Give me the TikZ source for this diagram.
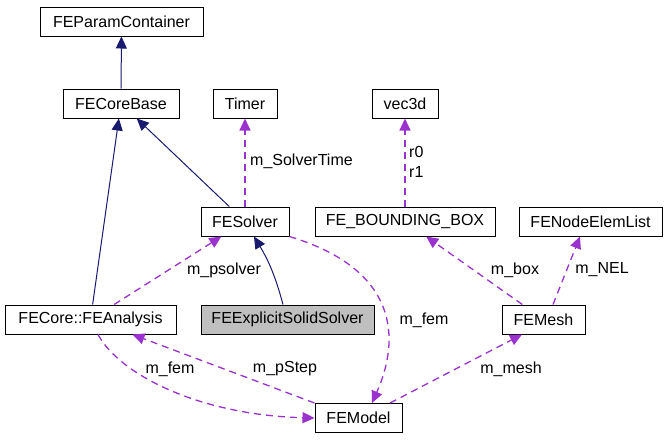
\documentclass[tikz,border=0pt]{standalone}
\usepackage{fontspec}
\setmainfont{Liberation Sans}
\usetikzlibrary{arrows.meta,calc}
\definecolor{navy}{HTML}{191970}
\definecolor{purp}{HTML}{9A32CD}
\definecolor{grayfill}{HTML}{BFBFBF}
\begin{document}
\begin{tikzpicture}[x=1pt,y=-1pt,
  box/.style={draw=black,line width=1pt,fill=white,minimum height=29pt,inner sep=0pt,font=\fontsize{16}{18}\selectfont},
  lbl/.style={font=\fontsize{16}{18}\selectfont,inner sep=0pt},
  inh/.style={draw=navy,line width=1pt,-{Triangle[length=12pt,width=11pt,fill=navy]}},
  use/.style={draw=purp,line width=1.3pt,dash pattern=on 7pt off 5pt,-{Triangle[length=12pt,width=11pt,fill=purp]}}]
\useasboundingbox[fill=white] (0,0) rectangle (667,440);
% nodes
\node[box,minimum width=163pt] (PC) at (121.5,21.5) {FEParamContainer};
\node[box,minimum width=116pt] (CB) at (121,103.5) {FECoreBase};
\node[box,minimum width=64pt] (TM) at (245,103.5) {Timer};
\node[box,minimum width=66pt] (V3) at (405,103.5) {vec3d};
\node[box,minimum width=88pt] (SV) at (245,221.5) {FESolver};
\node[box,minimum width=180pt] (BB) at (405,221.5) {FE\_BOUNDING\_BOX};
\node[box,minimum width=143pt] (NE) at (590.5,221.5) {FENodeElemList};
\node[box,minimum width=171pt] (AN) at (90.5,319.5) {FECore::FEAnalysis};
\node[box,minimum width=173pt,fill=grayfill] (ES) at (287.5,319.5) {FEExplicitSolidSolver};
\node[box,minimum width=83pt] (MS) at (543.5,319.5) {FEMesh};
\node[box,minimum width=87pt] (MD) at (358.5,418) {FEModel};
% inheritance
\draw[inh] (CB) -- (PC);
\draw[inh] (AN) -- (CB);
\draw[inh] (SV) -- (CB);
\draw[inh] ([xshift=-4.5pt]ES.north) to[bend right=8] ([xshift=9pt]SV.south);
% usage
\draw[use] (SV) -- (TM);
\node[lbl,anchor=west] (lST) at (250,161) {m\_SolverTime};
\draw[use] (BB) -- (V3);
\node[lbl,anchor=west] (lr0) at (409,152) {r0};
\node[lbl,anchor=west] (lr1) at (409,172) {r1};
\draw[use] (AN) -- (SV);
\node[lbl] (lps) at (224,270) {m\_psolver};
\draw[use] (SV.south east) .. controls (400,270) and (400,340) .. ([xshift=13.5pt]MD.north);
\node[lbl] (lf1) at (424,320) {m\_fem};
\draw[use] (MS) -- (BB);
\node[lbl] (lbx) at (515,270) {m\_box};
\draw[use] ([xshift=9.5pt]MS.north) -- ([xshift=-10.5pt]NE.south);
\node[lbl] (lnl) at (602,270) {m\_NEL};
\draw[use] ([xshift=31.5pt]MD.north) -- ([xshift=-21.5pt]MS.south);
\node[lbl] (lms) at (511,369) {m\_mesh};
\draw[use] (MD.north west) -- ([xshift=42pt]AN.south);
\node[lbl] (lpst) at (285,369) {m\_pStep};
\draw[use] ([xshift=7.5pt]AN.south) .. controls (120,375) and (200,415) .. (MD.west);
\node[lbl] (lf2) at (170,369) {m\_fem};
\end{tikzpicture}
\end{document}
